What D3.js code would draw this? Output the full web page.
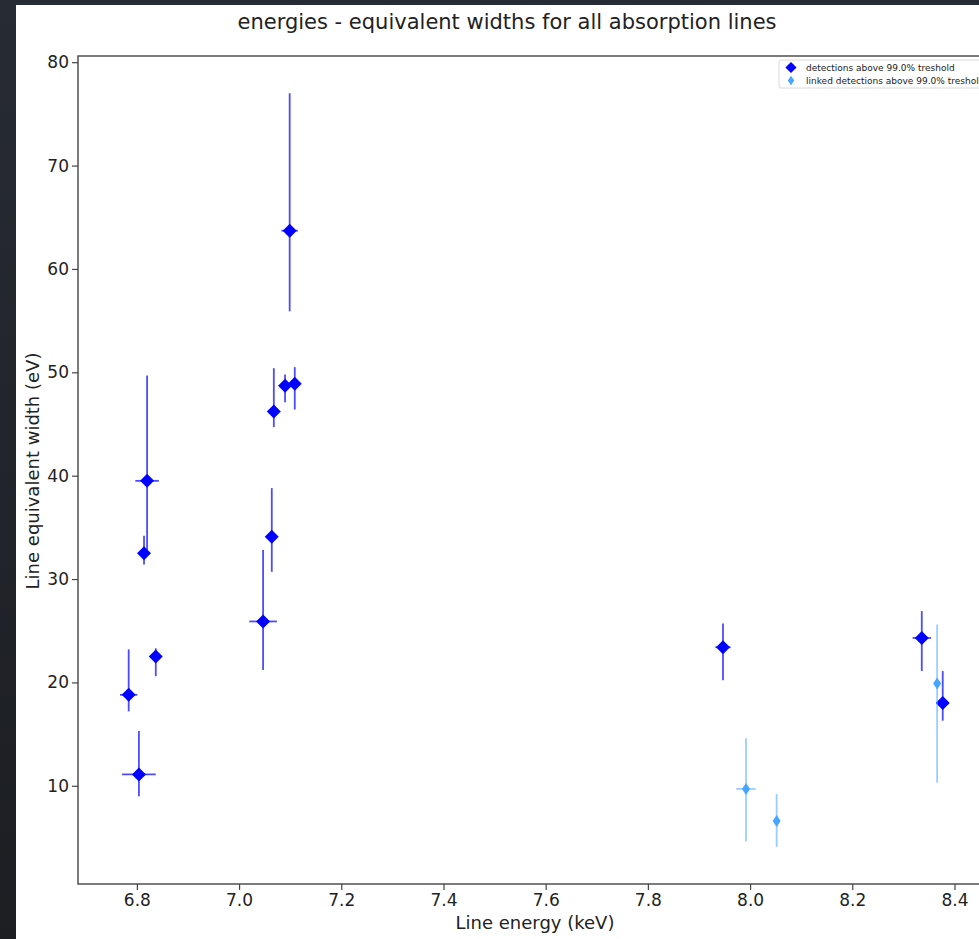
<!DOCTYPE html>
<html>
<head>
<meta charset="utf-8">
<script src="https://cdn.jsdelivr.net/npm/d3@7"></script>
<style>
  html, body { margin: 0; padding: 0; }
  body { width: 979px; height: 939px; overflow: hidden; background: #23262d; }
  text { font-family: "DejaVu Sans", sans-serif; fill: #222; }
</style>
</head>
<body>
<svg width="979" height="939"></svg>
<script>
// detections above threshold: energy (keV), equivalent width (eV) and errors
const energy   = [6.784, 6.804, 6.814, 6.820, 6.837, 7.047, 7.064, 7.068, 7.090, 7.109, 7.099, 7.947, 8.336, 8.377];
const energyErr = [0.017, 0.033, 0.006, 0.023, 0.006, 0.027, 0.006, 0.006, 0.006, 0.006, 0.016, 0.015, 0.018, 0.006];
const ew       = [18.8, 11.1, 32.5, 39.5, 22.5, 25.9, 34.1, 46.2, 48.7, 48.9, 63.7, 23.4, 24.3, 18.0];
const ewErrHi  = [4.4, 4.2, 1.7, 10.2, 0.8, 6.9, 4.7, 4.2, 1.1, 1.6, 13.3, 2.3, 2.6, 3.1];
const ewErrLo  = [1.6, 2.1, 1.1, 6.7, 1.9, 4.7, 3.4, 1.5, 1.6, 2.5, 7.8, 3.2, 3.2, 1.7];

// linked detections
const linkedEnergy    = [7.992, 8.052, 8.366];
const linkedEnergyErr = [0.019, 0.004, 0.004];
const linkedEw        = [9.7, 6.6, 19.9];
const linkedEwErrHi   = [4.9, 2.6, 5.7];
const linkedEwErrLo   = [5.1, 2.5, 9.6];

const xTicks = [6.8, 7.0, 7.2, 7.4, 7.6, 7.8, 8.0, 8.2, 8.4];
const yTicks = [10, 20, 30, 40, 50, 60, 70, 80];
const legendLabels = ["detections above 99.0% treshold", "linked detections above 99.0% treshold"];

const svg = d3.select("svg");

// dark page backdrop with a white figure panel
const defs = svg.append("defs");
const grad = defs.append("linearGradient").attr("id", "bg").attr("x1", 0).attr("y1", 0).attr("x2", 0).attr("y2", 1);
grad.append("stop").attr("offset", "0%").attr("stop-color", "#272b34");
grad.append("stop").attr("offset", "100%").attr("stop-color", "#1c1e22");
svg.append("rect").attr("width", 979).attr("height", 939).attr("fill", "url(#bg)");
svg.append("rect").attr("x", 16).attr("y", 5).attr("width", 963).attr("height", 934).attr("fill", "#fff");

const margin = { left: 78, top: 56, bottom: 884, right: 1034 };

const x = d3.scaleLinear().domain([6.6848, 8.5556]).range([margin.left, margin.right]);
const y = d3.scaleLinear().domain([0.5, 80.6]).range([margin.bottom, margin.top]);

const main = {
  e: energy, ee: energyErr, w: ew, hi: ewErrHi, lo: ewErrLo,
  color: "#0000ff", errColor: "rgba(0,0,255,0.7)", rx: 7, ry: 7
};
const linked = {
  e: linkedEnergy, ee: linkedEnergyErr, w: linkedEw, hi: linkedEwErrHi, lo: linkedEwErrLo,
  color: "#45a5ff", errColor: "rgba(69,165,255,0.55)", rx: 4, ry: 6
};

const plot = svg.append("g");

function drawSeries(s) {
  const pts = s.e.map((e, i) => ({ e, ee: s.ee[i], w: s.w[i], hi: s.hi[i], lo: s.lo[i] }));
  const g = plot.append("g");
  g.selectAll("line.v").data(pts).enter().append("line")
    .attr("x1", d => x(d.e)).attr("x2", d => x(d.e))
    .attr("y1", d => y(d.w + d.hi)).attr("y2", d => y(d.w - d.lo))
    .attr("stroke", s.errColor).attr("stroke-width", 1.8);
  g.selectAll("line.h").data(pts).enter().append("line")
    .attr("x1", d => x(d.e - d.ee)).attr("x2", d => x(d.e + d.ee))
    .attr("y1", d => y(d.w)).attr("y2", d => y(d.w))
    .attr("stroke", s.errColor).attr("stroke-width", 1.8);
  g.selectAll("path").data(pts).enter().append("path")
    .attr("d", d => diamond(x(d.e), y(d.w), s.rx, s.ry))
    .attr("fill", s.color);
}

function diamond(cx, cy, rx, ry) {
  return `M${cx},${cy - ry}L${cx + rx},${cy}L${cx},${cy + ry}L${cx - rx},${cy}Z`;
}

drawSeries(main);
drawSeries(linked);

// axes
const xAxis = d3.axisBottom(x).tickValues(xTicks).tickFormat(d3.format(".1f")).tickSize(6).tickPadding(4);
const yAxis = d3.axisLeft(y).tickValues(yTicks).tickFormat(d3.format("d")).tickSize(6).tickPadding(3);

const gx = svg.append("g").attr("transform", `translate(0,${margin.bottom})`).call(xAxis);
const gy = svg.append("g").attr("transform", `translate(${margin.left},0)`).call(yAxis);
[gx, gy].forEach(g => {
  g.select(".domain").remove();
  g.selectAll(".tick line").attr("stroke", "#444").attr("stroke-width", 1.2);
  g.selectAll(".tick text").attr("font-size", 17).attr("fill", "#222")
    .attr("font-family", "DejaVu Sans, sans-serif");
});

// spines
svg.append("rect")
  .attr("x", margin.left).attr("y", margin.top)
  .attr("width", margin.right - margin.left).attr("height", margin.bottom - margin.top)
  .attr("fill", "none").attr("stroke", "#444").attr("stroke-width", 1.4);

svg.append("text").attr("x", 507).attr("y", 29).attr("text-anchor", "middle")
  .attr("font-size", 21).text("energies - equivalent widths for all absorption lines");
svg.append("text").attr("x", 535).attr("y", 929).attr("text-anchor", "middle")
  .attr("font-size", 18).text("Line energy (keV)");
svg.append("text").attr("transform", "translate(39,471) rotate(-90)").attr("text-anchor", "middle")
  .attr("font-size", 18).text("Line equivalent width (eV)");

// legend
const lg = svg.append("g").attr("transform", "translate(779,60)");
lg.append("rect").attr("width", 260).attr("height", 28).attr("rx", 2)
  .attr("fill", "rgba(255,255,255,0.8)").attr("stroke", "#d0d0d0").attr("stroke-width", 0.8);
[main, linked].forEach((s, i) => {
  const cy = 7.5 + i * 13;
  lg.append("path").attr("d", diamond(12, cy, s.rx * 0.8, s.ry * 0.8)).attr("fill", s.color);
  lg.append("text").attr("x", 27).attr("y", cy + 3.2).attr("font-size", 9).text(legendLabels[i]);
});
</script>
</body>
</html>
